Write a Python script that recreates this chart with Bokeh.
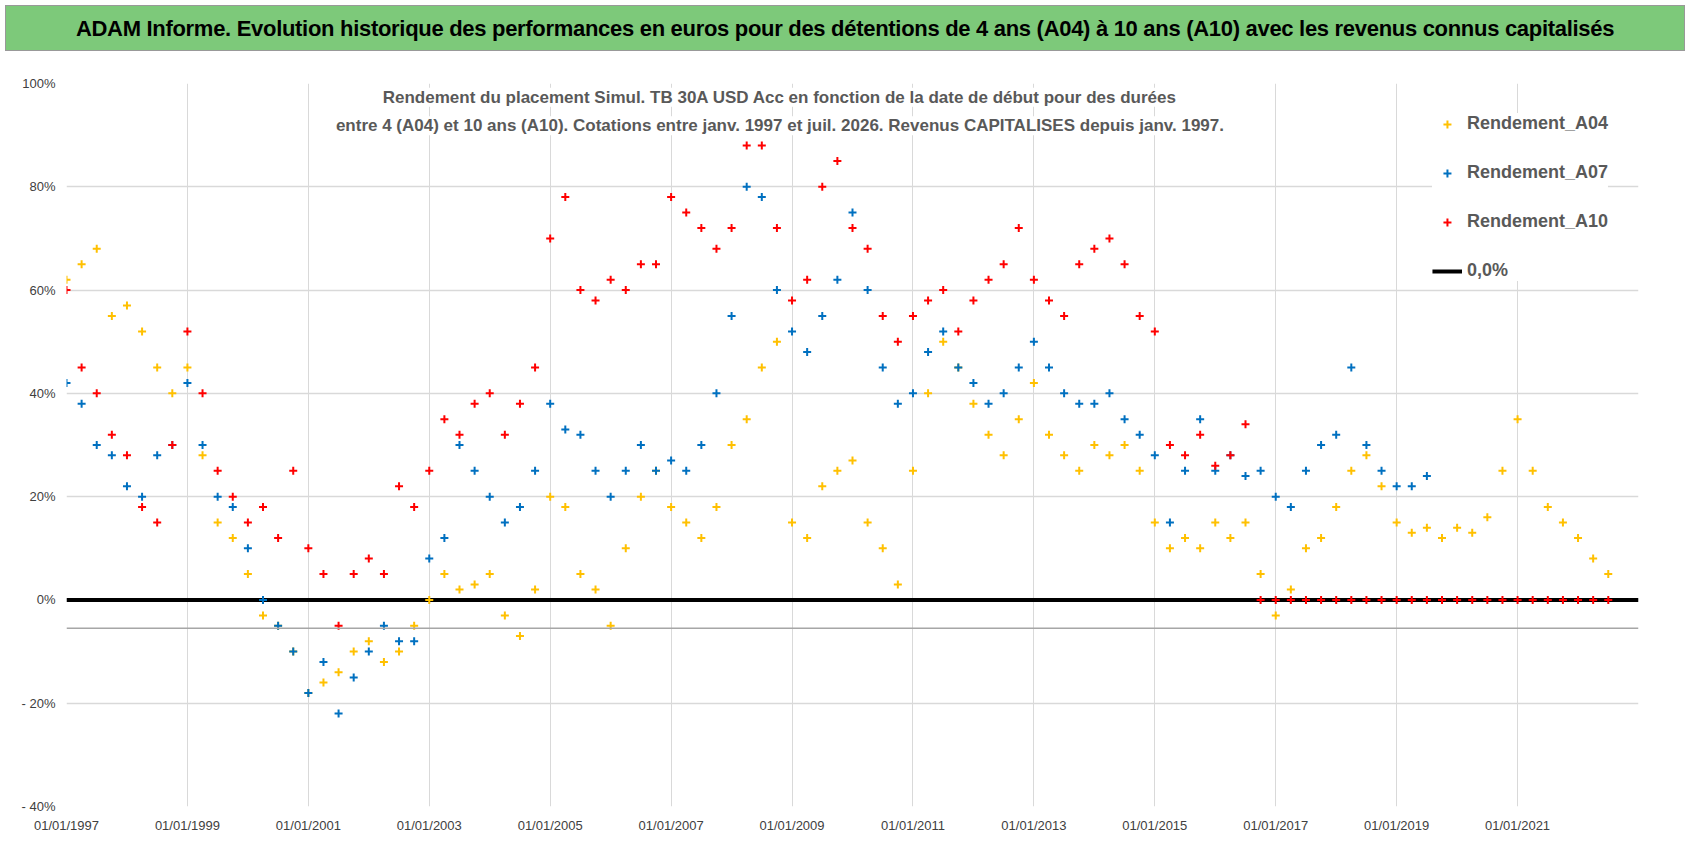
import numpy as np
from bokeh.plotting import figure
from bokeh.models import Div, Legend, LegendItem, Span, FixedTicker, Label
from bokeh.layouts import column
from bokeh.embed import file_html
from bokeh.resources import INLINE

a04 = [62,65,68,55,57,52,45,40,45,28,15,12,5,-3,-5,-10,-18,-16,-14,-10,-8,-12,-10,-5,0,5,2,3,5,-3,-7,2,
       20,18,5,2,-5,10,20,25,18,15,12,18,30,35,45,50,15,12,22,25,27,15,10,3,25,40,50,45,38,32,28,35,
       42,32,28,25,30,28,30,25,15,10,12,10,15,12,15,5,-3,2,10,12,18,25,28,22,15,13,14,12,14,13,16,25,
       35,25,18,15,12,8,5]
a07 = [42,38,30,28,22,20,28,30,42,30,20,18,10,0,-5,-10,-18,-12,-22,-15,-10,-5,-8,-8,8,12,30,25,20,15,18,25,
       38,33,32,25,20,25,30,25,27,25,30,40,55,80,78,60,52,48,55,62,75,60,45,38,40,48,52,45,42,38,40,45,
       50,45,40,38,38,40,35,32,28,15,25,35,25,28,24,25,20,18,25,30,32,45,30,25,22,22,24]
a10 = [60,45,40,32,28,18,15,30,52,40,25,20,15,18,12,25,10,5,-5,5,8,5,22,18,25,35,32,38,40,32,38,45,
       70,78,60,58,62,60,65,65,78,75,72,68,72,88,88,72,58,62,80,85,72,68,55,50,55,58,60,52,58,62,65,72,
       62,58,55,65,68,70,65,55,52,30,28,32,26,28,34] + [0]*24
x04 = [1997 + 0.25*i for i in range(len(a04))]
x07 = [1997 + 0.25*i for i in range(len(a07))]
x10 = [1997 + 0.25*i for i in range(len(a10))]
years = list(range(1997, 2023, 2))
xlabels = {y: "01/01/%d" % y for y in years}
yticks = [-40, -20, 0, 20, 40, 60, 80, 100]
ylabels = {v: ("- %d%%" % -v if v < 0 else "%d%%" % v) for v in yticks}

FONT = "Liberation Sans"
title = Div(text="ADAM Informe. Evolution historique des performances en euros pour des détentions de 4 ans (A04) à 10 ans (A10) avec les revenus connus capitalisés",
            width=1680, height=46,
            styles={"background-color": "#7DC97A", "color": "black", "font-family": "Liberation Sans",
                    "font-weight": "bold", "font-size": "22px", "text-align": "center", "line-height": "46px",
                    "width": "1680px", "border": "1px solid #999", "letter-spacing": "-0.3px"})

p = figure(width=1680, height=790, x_range=(1997, 2023), y_range=(-40, 100),
           output_backend="svg", toolbar_location=None,
           min_border_left=66, min_border_right=42, min_border_top=27, min_border_bottom=40)
p.outline_line_color = None
p.border_fill_color = "white"
p.xaxis.ticker = FixedTicker(ticks=years)
p.xaxis.major_label_overrides = xlabels
p.yaxis.ticker = FixedTicker(ticks=yticks)
p.yaxis.major_label_overrides = ylabels
for ax in (p.xaxis, p.yaxis):
    ax.axis_line_color = None
    ax.major_tick_line_color = None
    ax.minor_tick_line_color = None
    ax.major_label_text_font = FONT
    ax.major_label_text_font_size = "13px"
    ax.major_label_text_color = "#404040"
p.grid.grid_line_color = "#D9D9D9"
p.ygrid.grid_line_width = 1.5
p.add_layout(Span(location=-5.5, dimension="width", line_color="#A6A6A6", line_width=1.5))

r0 = p.line([1997, 2023], [0, 0], line_color="black", line_width=4)
r4 = p.scatter(x04, a04, marker="cross", size=8, line_color="#FFC000", line_width=2)
r7 = p.scatter(x07, a07, marker="cross", size=8, line_color="#0070C0", line_width=2)
r10 = p.scatter(x10, a10, marker="cross", size=8, line_color="#FF0000", line_width=2)

for yy, txt in [(95.5, "Rendement du placement Simul. TB 30A USD Acc en fonction de la date de début pour des durées"),
                (90, "entre 4 (A04) et 10 ans (A10). Cotations entre janv. 1997 et juil. 2026. Revenus CAPITALISES depuis janv. 1997.")]:
    p.add_layout(Label(x=2008.8, y=yy, text=txt, text_align="center", text_font=FONT, text_font_style="bold",
                       text_font_size="17px", text_color="#595959", background_fill_color="white"))

leg = Legend(items=[LegendItem(label="Rendement_A04", renderers=[r4]),
                    LegendItem(label="Rendement_A07", renderers=[r7]),
                    LegendItem(label="Rendement_A10", renderers=[r10]),
                    LegendItem(label="0,0%", renderers=[r0])],
             location="top_right", label_text_font=FONT, label_text_font_style="bold",
             label_text_font_size="18px", label_text_color="#595959", spacing=28, padding=18,
             border_line_color=None, background_fill_alpha=1, glyph_width=30, margin=30)
p.add_layout(leg)

open("out.html", "w").write(file_html(column(title, p, spacing=0), INLINE))
